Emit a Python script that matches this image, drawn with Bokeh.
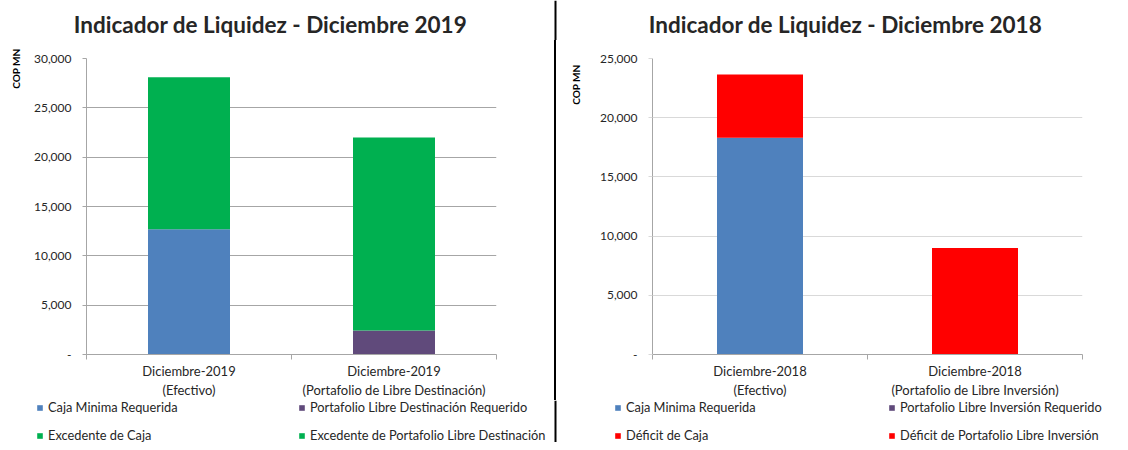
from bokeh.plotting import figure
from bokeh.models import (ColumnDataSource, FixedTicker, NumeralTickFormatter, Legend,
                          LegendItem, Range1d, Div, Title, Span, Label)
from bokeh.layouts import row, column
from bokeh.embed import file_html
from bokeh.resources import INLINE

FONT = "Lato"
TEXT = "#262626"

# ---------------- Data: Diciembre 2019 ----------------
title_2019 = "Indicador de Liquidez - Diciembre 2019"
categories_2019 = ["Diciembre-2019\n(Efectivo)",
                   "Diciembre-2019\n(Portafolio de Libre Destinación)"]
series_2019 = ["Caja Minima Requerida", "Portafolio Libre Destinación Requerido",
               "Excedente de Caja", "Excedente de Portafolio Libre Destinación"]
caja_minima_2019 = [12700, 0]
portafolio_req_2019 = [0, 2430]
excedente_caja_2019 = [15400, 0]
excedente_port_2019 = [0, 19570]
yticks_2019 = [0, 5000, 10000, 15000, 20000, 25000, 30000]

# ---------------- Data: Diciembre 2018 ----------------
title_2018 = "Indicador de Liquidez - Diciembre 2018"
categories_2018 = ["Diciembre-2018\n(Efectivo)",
                   "Diciembre-2018\n(Portafolio de Libre Inversión)"]
series_2018 = ["Caja Minima Requerida", "Portafolio Libre Inversión Requerido",
               "Déficit de Caja", "Déficit de Portafolio Libre Inversión"]
caja_minima_2018 = [18300, 0]
portafolio_req_2018 = [0, 0]
deficit_caja_2018 = [5350, 0]
deficit_port_2018 = [0, 9000]
yticks_2018 = [0, 5000, 10000, 15000, 20000, 25000]

colors_2019 = ["#4F81BD", "#604A7B", "#00B050", "#00B050"]
colors_2018 = ["#4F81BD", "#604A7B", "#FF0000", "#FF0000"]

TOTAL_W = 1120
TITLE_H = 40
CHART_H = 360
LEGEND_H = 42


def make_chart(categories, values, colors, yticks, width, height,
               border_left, frame_w, border_top, frame_h, grid_color,
               ylab_offset, ylab_standoff):
    n = len(categories)
    xs = [i + 0.5 for i in range(n)]
    data = {"x": xs}
    keys = []
    for k, vals in enumerate(values):
        key = "s%d" % k
        data[key] = vals
        keys.append(key)
    src = ColumnDataSource(data)

    p = figure(width=width, height=height,
               x_range=Range1d(0, n), y_range=Range1d(0, yticks[-1]),
               output_backend="svg", toolbar_location=None, title=None,
               min_border_left=border_left,
               min_border_right=width - border_left - frame_w,
               min_border_top=border_top,
               min_border_bottom=height - border_top - frame_h)
    p.outline_line_color = None
    p.background_fill_color = "white"
    p.border_fill_color = "white"

    p.vbar_stack(keys, x="x", width=0.4, color=colors, line_color=None, source=src)

    # axes
    p.yaxis.ticker = FixedTicker(ticks=yticks)
    p.yaxis.formatter = NumeralTickFormatter(format="0,0")
    p.yaxis.major_label_overrides = {0: "-"}
    p.yaxis.axis_line_color = "#A6A6A6"
    p.yaxis.major_tick_line_color = grid_color
    p.yaxis.major_tick_out = 4
    p.yaxis.major_tick_in = 0
    p.yaxis.minor_tick_line_color = None
    p.yaxis.major_label_standoff = 11
    p.yaxis.major_label_text_font = FONT
    p.yaxis.major_label_text_font_size = "12px"
    p.yaxis.major_label_text_color = TEXT

    p.xaxis.ticker = FixedTicker(ticks=xs, minor_ticks=list(range(n + 1)))
    p.xaxis.major_label_overrides = {x: c for x, c in zip(xs, categories)}
    p.xaxis.axis_line_color = "#A6A6A6"
    p.xaxis.major_tick_line_color = None
    p.xaxis.minor_tick_line_color = "#A6A6A6"
    p.xaxis.minor_tick_out = 5
    p.xaxis.minor_tick_in = 0
    p.xaxis.major_label_standoff = 2
    p.xaxis.major_label_text_font = FONT
    p.xaxis.major_label_text_font_size = "13px"
    p.xaxis.major_label_text_color = TEXT

    p.xgrid.visible = False
    p.ygrid.grid_line_color = grid_color

    p.add_layout(Title(text="COP MN", align="right", offset=ylab_offset,
                       standoff=ylab_standoff, vertical_align="top", text_font=FONT,
                       text_font_style="bold", text_font_size="10px",
                       text_color="#000000"), "left")
    return p


def strip(height):
    f = figure(width=TOTAL_W, height=height, x_range=Range1d(0, TOTAL_W),
               y_range=Range1d(0, height), output_backend="svg", toolbar_location=None,
               title=None, x_axis_type=None, y_axis_type=None,
               min_border_left=0, min_border_right=0, min_border_top=0, min_border_bottom=0)
    f.outline_line_color = None
    f.xgrid.visible = False
    f.ygrid.visible = False
    f.add_layout(Span(location=555, location_units="screen", dimension="height",
                      line_color="black", line_width=2))
    return f


# ---------------- title strip ----------------
tf = strip(TITLE_H)
for txt, cx in ((title_2019, 270), (title_2018, 845)):
    tf.add_layout(Label(x=cx, y=TITLE_H - 24, text=txt, text_align="center",
                        text_baseline="middle", text_font=FONT, text_font_style="bold",
                        text_font_size="22.5px", text_color=TEXT))

# ---------------- charts ----------------
p1 = make_chart(categories_2019,
                [caja_minima_2019, portafolio_req_2019, excedente_caja_2019, excedente_port_2019],
                colors_2019, yticks_2019, width=554, height=CHART_H,
                border_left=86, frame_w=410, border_top=58 - TITLE_H, frame_h=296,
                grid_color="#A6A6A6", ylab_offset=-10, ylab_standoff=14)

p2 = make_chart(categories_2018,
                [caja_minima_2018, portafolio_req_2018, deficit_caja_2018, deficit_port_2018],
                colors_2018, yticks_2018, width=564, height=CHART_H,
                border_left=96, frame_w=430, border_top=58 - TITLE_H, frame_h=296,
                grid_color="#D9D9D9", ylab_offset=6, ylab_standoff=26)

divider = Div(width=2, height=CHART_H, margin=0, styles={"background-color": "black"})
charts = row(p1, divider, p2, spacing=0)

# ---------------- legend strip ----------------
lf = strip(LEGEND_H)


def add_legend_columns(series, colors, col_x):
    # legend swatches only (zero-height, outside the visible range)
    sw = [lf.vbar(x=[-1000], top=[0], bottom=0, width=1, color=c, line_color=None)
          for c in colors]
    items = [LegendItem(label=s, renderers=[r]) for s, r in zip(series, sw)]
    for cx, idx in zip(col_x, ([0, 2], [1, 3])):
        lg = Legend(items=[items[i] for i in idx], location=(cx, -1), orientation="vertical",
                    padding=0, margin=0, border_line_color=None,
                    background_fill_alpha=0, glyph_width=7, glyph_height=7,
                    label_standoff=5, spacing=12, label_height=14,
                    label_text_font=FONT, label_text_font_size="12.8px",
                    label_text_color=TEXT)
        lf.add_layout(lg)


add_legend_columns(series_2019, colors_2019, (36, 298))
add_legend_columns(series_2018, colors_2018, (614, 888))

layout = column(tf, charts, lf, spacing=0)
open("out.html", "w").write(file_html(layout, INLINE))
